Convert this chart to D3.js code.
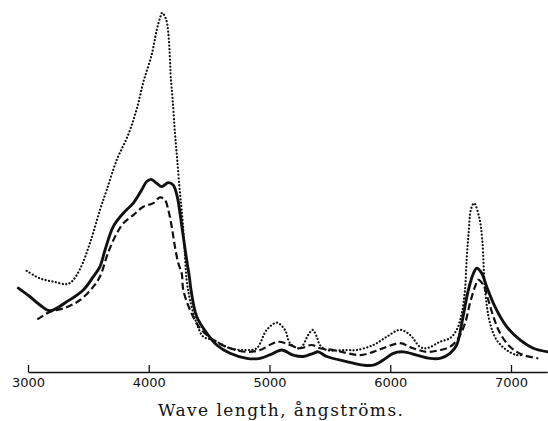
<!DOCTYPE html>
<html>
<head>
<meta charset="utf-8">
<script src="https://cdn.jsdelivr.net/npm/d3@7"></script>
<style>
  html, body { margin: 0; padding: 0; background: #fff; }
  svg { display: block; }
</style>
</head>
<body>
<svg id="chart" width="548" height="421"></svg>
<script>
// ---- data (wavelength in ångströms, relative absorption) ----
const tickValues = [3000, 4000, 5000, 6000, 7000];
const xTitle = "Wave length, ångströms.";

const dottedWave = [2990,3099,3210,3320,3362,3431,3513,3596,3652,3735,3831,3900,3955,4024,4066,4093,4112,4145,4162,4176,4182,4198,4217,4236,4259,4273,4292,4314,4342,4397,4452,4535,4673,4811,4894,4977,5060,5128,5170,5253,5321,5358,5391,5418,5474,5639,5722,5860,5971,6081,6164,6246,6302,6412,6495,6550,6592,6619,6634,6650,6667,6694,6736,6762,6785,6826,6881,6964,7047,7091];
const dottedVal  = [28.1,26.0,25.1,24.4,25.1,28.6,35.8,45.0,50.6,58.9,66.0,73.0,80.5,88.1,95.0,98.3,99.8,97.8,94.1,86.7,82.0,75.6,66.4,58.9,49.6,45.0,36.7,25.6,20.0,13.5,9.8,8.9,6.6,6.1,6.6,11.7,13.7,11.7,8.0,6.6,10.3,11.7,9.8,7.5,6.1,6.1,6.1,7.5,9.8,11.7,10.3,7.0,6.6,8.4,9.4,11.7,16.3,22.8,32.0,39.0,45.0,46.9,43.1,36.7,22.8,13.6,8.9,6.1,4.7,4.7];

const solidWave = [2920,3017,3099,3182,3320,3458,3541,3596,3638,3706,3789,3872,3942,3983,4019,4066,4107,4162,4203,4236,4259,4286,4314,4336,4350,4397,4480,4563,4673,4811,4921,5031,5101,5197,5280,5363,5404,5474,5639,5777,5860,5942,6025,6108,6219,6329,6412,6495,6550,6592,6647,6689,6716,6758,6799,6868,6964,7075,7185,7306];
const solidVal  = [23.3,20.9,18.6,17.0,19.5,22.8,26.5,29.3,33.9,40.4,44.1,46.9,50.6,52.9,53.5,52.4,51.5,52.6,51.9,48.7,44.1,37.6,31.1,26.5,22.8,15.4,10.8,7.5,5.2,3.8,3.8,5.2,6.1,4.7,4.3,5.2,5.6,4.3,2.9,1.9,1.9,3.3,5.2,5.6,4.7,3.8,3.8,5.2,7.5,13.5,22.8,27.4,28.8,27.4,23.7,18.1,12.6,8.9,6.6,5.6];

const dashedWave = [3077,3182,3306,3431,3541,3596,3665,3735,3789,3872,3955,4038,4093,4134,4162,4190,4217,4245,4273,4286,4342,4424,4535,4673,4811,4921,5031,5087,5170,5253,5349,5418,5528,5750,5860,5971,6081,6191,6302,6412,6495,6564,6619,6660,6702,6729,6771,6812,6854,6909,6992,7102,7226];
const dashedVal  = [14.6,16.7,17.8,20.0,23.7,26.5,33.3,38.5,41.3,43.6,45.9,46.9,48.5,47.8,45.0,40.4,34.8,30.2,27.4,22.8,17.2,12.2,8.9,6.6,5.6,6.1,8.0,8.4,7.5,6.6,7.5,6.6,6.1,4.7,5.6,7.0,8.0,6.6,5.6,6.1,7.0,9.4,13.5,19.1,23.7,25.6,24.2,20.0,15.4,10.8,7.0,4.7,3.8];

// ---- layout ----
const svg = d3.select("#chart");
const axisY = 372;
const x = d3.scaleLinear().domain([3000, 7300]).range([28, 28 + 4300 * 0.12075]);
const y = d3.scaleLinear().domain([0, 100]).range([axisY, 12]);

const line = d3.line()
  .x(d => x(d[0]))
  .y(d => y(d[1]))
  .curve(d3.curveCatmullRom.alpha(0.5));

function pts(w, v) { return w.map((d, i) => [d, v[i]]); }

svg.append("path")
  .attr("d", line(pts(dottedWave, dottedVal)))
  .attr("fill", "none").attr("stroke", "#111")
  .attr("stroke-width", 2.2)
  .attr("stroke-linecap", "round")
  .attr("stroke-dasharray", "0.1 3.4");

svg.append("path")
  .attr("d", line(pts(dashedWave, dashedVal)))
  .attr("fill", "none").attr("stroke", "#111")
  .attr("stroke-width", 2.2)
  .attr("stroke-dasharray", "7 3.5");

svg.append("path")
  .attr("d", line(pts(solidWave, solidVal)))
  .attr("fill", "none").attr("stroke", "#111")
  .attr("stroke-width", 2.9)
  .attr("stroke-linejoin", "round")
  .attr("stroke-linecap", "round");

// ---- axis ----
const axis = d3.axisBottom(x)
  .tickValues(tickValues)
  .tickFormat(d3.format("d"))
  .tickSizeInner(-7)
  .tickSizeOuter(0)
  .tickPadding(6);

const g = svg.append("g").attr("transform", `translate(0,${axisY})`).call(axis);
g.select(".domain").attr("stroke", "#111").attr("stroke-width", 1.4);
g.selectAll(".tick line").attr("stroke", "#111").attr("stroke-width", 1.3);
g.selectAll(".tick text")
  .attr("fill", "#111")
  .attr("font-family", "DejaVu Sans, sans-serif")
  .attr("font-size", 13);

svg.append("text")
  .attr("x", 158).attr("y", 415.5)
  .attr("font-family", "DejaVu Serif, serif")
  .attr("font-size", 17)
  .attr("fill", "#111")
  .attr("textLength", 245)
  .attr("lengthAdjust", "spacing")
  .text(xTitle);
</script>
</body>
</html>
